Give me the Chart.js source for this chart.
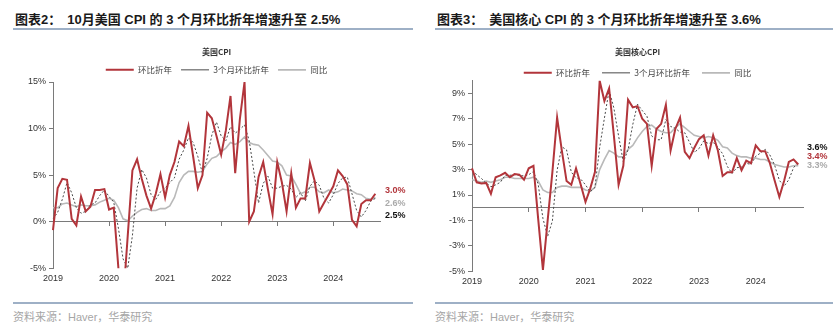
<!DOCTYPE html>
<html>
<head>
<meta charset="utf-8">
<script src="https://cdn.jsdelivr.net/npm/chart.js@4.4.1/dist/chart.umd.min.js"></script>
<style>
  body { margin: 0; width: 837px; height: 334px; position: relative; overflow: hidden; background: #fff;
         font-family: "Liberation Sans", "Noto Sans CJK SC", sans-serif; }
  .head { position: absolute; top: 11px; font-size: 13px; font-weight: bold; color: #1a1a1a; line-height: 18px; white-space: nowrap; }
  .head span { margin-left: 6px; }
  .rule { position: absolute; height: 2px; background: #9eb0c6; }
  .src { position: absolute; top: 308px; font-size: 11px; color: #a6a6a6; white-space: nowrap; }
  canvas { position: absolute; }
</style>
</head>
<body>
<div class="head" style="left:15px">图表2：<span>10月美国 CPI 的 3 个月环比折年增速升至 2.5%</span></div>
<div class="rule" style="left:13px; width:400px; top:28px"></div>
<div class="head" style="left:437px">图表3：<span>美国核心 CPI 的 3 个月环比折年增速升至 3.6%</span></div>
<div class="rule" style="left:435px; width:398px; top:28px"></div>

<canvas id="cpi" width="420" height="250" style="left:0; top:40px"></canvas>
<canvas id="core" width="417" height="250" style="left:420px; top:40px"></canvas>

<div class="rule" style="left:13px; width:400px; top:302px"></div>
<div class="src" style="left:13px">资料来源：Haver，华泰研究</div>
<div class="rule" style="left:435px; width:398px; top:302px"></div>
<div class="src" style="left:435px">资料来源：Haver，华泰研究</div>

<script>
// monthly axis Jan 2019 – Nov 2024 (data runs to Oct 2024, axis one month longer)
const years = ['2019', '2020', '2021', '2022', '2023', '2024'];
const months = years.flatMap(y => Array.from({ length: 12 }, (_, m) => y + '-' + (m + 1))).slice(0, 71);

// headline CPI, %
const cpiMom = [
  -0.9, 3.6, 4.6, 4.5, 0.3, -0.4, 2.7, 1.1, 1.6, 3.4, 3.4, 3.5,
  1.3, 1.5, -5.0, -8.6, -1.5, 5.5, 6.7, 4.6, 2.8, 1.4, 3.0, 5.1,
  2.6, 5.0, 6.4, 8.6, 8.1, 10.3, 7.0, 3.6, 5.0, 11.7, 11.1, 9.2,
  7.2, 9.8, 13.5, 5.2, 11.0, 15.0, 0.0, 1.1, 4.8, 6.4, 3.5, 0.8,
  6.4, 4.2, 1.1, 5.2, 1.5, 2.5, 2.5, 6.3, 4.4, 1.1, 2.0, 2.9,
  3.8, 5.5, 4.9, 4.0, 0.2, -0.5, 1.9, 2.3, 2.3, 3.0
];
const cpi3m = [
  0.3, 1.0, 2.4, 4.2, 3.1, 1.5, 0.9, 1.1, 1.8, 2.0, 2.8, 3.4,
  2.7, 2.1, -0.7, -4.0, -5.0, -1.5, 3.6, 5.6, 4.7, 2.9, 2.4, 3.2,
  3.6, 4.2, 4.7, 6.7, 7.7, 9.0, 8.5, 7.0, 5.2, 6.8, 9.3, 10.7,
  9.2, 8.7, 10.2, 9.5, 9.9, 10.4, 8.7, 5.4, 2.0, 4.1, 4.9, 3.6,
  3.6, 3.8, 3.9, 3.5, 2.6, 3.1, 2.2, 3.8, 4.4, 3.9, 2.5, 2.0,
  2.9, 4.1, 4.7, 4.8, 3.0, 1.2, 0.5, 1.2, 2.2, 2.5
];
const cpiYoy = [
  1.5, 1.5, 1.9, 2.0, 1.8, 1.6, 1.8, 1.7, 1.7, 1.8, 2.1, 2.3,
  2.5, 2.3, 1.5, 0.3, 0.1, 0.6, 1.0, 1.3, 1.4, 1.2, 1.2, 1.4,
  1.4, 1.7, 2.6, 4.2, 5.0, 5.4, 5.4, 5.3, 5.4, 6.2, 6.8, 7.0,
  7.5, 7.9, 8.5, 8.3, 8.6, 9.1, 8.5, 8.3, 8.2, 7.7, 7.1, 6.5,
  6.4, 6.0, 5.0, 4.9, 4.0, 3.0, 3.2, 3.7, 3.7, 3.2, 3.1, 3.4,
  3.1, 3.2, 3.5, 3.4, 3.3, 3.0, 2.9, 2.5, 2.4, 2.6
];

// core CPI, %
const coreMom = [
  3.1, 2.0, 1.9, 1.95, 1.1, 2.4, 2.55, 2.75, 2.4, 2.65, 2.6, 2.2,
  3.1, 3.3, -0.9, -4.9, -1.0, 2.8, 7.1, 4.5, 2.1, 1.8, 3.1, 1.8,
  0.45, 1.5, 2.8, 10.0, 8.4, 9.4, 5.7, 1.8, 3.3, 8.5, 7.9, 8.0,
  7.0, 6.6, 3.3, 6.2, 6.6, 8.1, 4.5, 6.2, 7.1, 4.4, 3.9, 4.7,
  5.4, 5.7, 4.1, 5.7, 4.5, 2.5, 2.8, 2.8, 3.9, 2.95, 3.7, 3.5,
  4.9, 4.45, 4.45, 3.5, 2.15, 0.85, 2.1, 3.6, 3.8, 3.4
];
const core3m = [
  2.9, 2.6, 2.3, 1.95, 1.65, 1.8, 2.0, 2.55, 2.55, 2.6, 2.55, 2.5,
  2.6, 2.85, 1.85, -0.85, -2.25, -1.05, 2.95, 4.8, 4.55, 2.8, 2.35, 2.25,
  1.8, 1.25, 1.6, 4.75, 7.05, 9.25, 7.85, 5.65, 3.6, 4.55, 6.55, 8.15,
  7.65, 7.2, 5.65, 5.35, 5.35, 6.95, 6.4, 6.25, 5.95, 5.9, 5.15, 4.35,
  4.65, 5.25, 5.05, 5.15, 4.75, 4.25, 3.25, 2.7, 3.15, 3.2, 3.5, 3.4,
  4.05, 4.3, 4.6, 4.15, 3.35, 2.15, 1.7, 2.2, 3.15, 3.6
];
const coreYoy = [
  2.2, 2.1, 2.0, 2.1, 2.0, 2.1, 2.2, 2.4, 2.4, 2.3, 2.3, 2.3,
  2.3, 2.4, 2.1, 1.4, 1.2, 1.2, 1.6, 1.7, 1.7, 1.6, 1.6, 1.6,
  1.4, 1.3, 1.6, 3.0, 3.8, 4.5, 4.3, 4.0, 4.0, 4.6, 4.9, 5.5,
  6.0, 6.4, 6.5, 6.2, 6.0, 5.9, 5.9, 6.3, 6.6, 6.3, 6.0, 5.7,
  5.6, 5.5, 5.6, 5.5, 5.3, 4.8, 4.7, 4.3, 4.1, 4.0, 4.0, 3.9,
  3.9, 3.8, 3.8, 3.6, 3.4, 3.3, 3.2, 3.2, 3.3, 3.3
];

const cpiTicks = [-5, 0, 5, 10, 15];
const coreTicks = [-5, -3, -1, 1, 3, 5, 7, 9];
const seriesNames = ['环比折年', '3个月环比折年', '同比'];

const RED = '#b2353b';
const DASH = '#4a4a4a';
const GREY = '#b9b9b9';
const LATIN = '"Liberation Sans", Arial, sans-serif';
const CJK = '"Noto Sans CJK SC", sans-serif';

// latest value of each series, stacked to the right of the plot
const endLabels = {
  id: 'endLabels',
  afterDraw(chart, args, opts) {
    const { ctx, chartArea } = chart;
    const y0 = chart.scales.y.getPixelForValue(opts.center);
    ctx.save();
    ctx.font = 'bold ' + opts.size + 'px ' + LATIN;
    ctx.textBaseline = 'middle';
    opts.order.forEach((di, i) => {
      const ds = chart.data.datasets[di];
      ctx.fillStyle = opts.colors[i];
      ctx.fillText(ds.data[ds.data.length - 1].toFixed(1) + '%', chartArea.right + opts.dx,
        y0 + (i - (opts.order.length - 1) / 2) * opts.gap);
    });
    ctx.restore();
  }
};

function makeChart(id, title, mom, m3, yoy, ticks, range, box, labels) {
  return new Chart(document.getElementById(id), {
    type: 'line',
    data: {
      labels: months,
      datasets: [
        { label: seriesNames[0], data: mom, borderColor: RED, borderWidth: 2 },
        { label: seriesNames[1], data: m3, borderColor: DASH, borderWidth: 1, borderDash: [2, 2] },
        { label: seriesNames[2], data: yoy, borderColor: GREY, borderWidth: 1.6 }
      ]
    },
    options: {
      responsive: false,
      animation: false,
      events: [],
      elements: { point: { radius: 0 }, line: { tension: 0 } },
      layout: { padding: { top: -2, right: box.padRight, bottom: box.padBottom, left: 0 } },
      plugins: {
        title: {
          display: true, text: title, fullSize: false, color: '#333',
          font: { family: CJK, size: 8, weight: 'bold' }, padding: { top: 9, bottom: 0 }
        },
        legend: {
          fullSize: false,
          maxHeight: box.legendHeight,
          labels: {
            usePointStyle: true, pointStyle: 'line', pointStyleWidth: 28, padding: box.legendPad,
            color: '#444', font: { family: CJK, size: 8.5 }
          }
        },
        tooltip: { enabled: false },
        endLabels: labels
      },
      scales: {
        x: {
          position: { y: 0 },
          border: { color: '#7a7a7a' },
          grid: {
            drawOnChartArea: false, tickLength: 4,
            color: c => c.index % 12 === 0 ? '#7a7a7a' : 'transparent'
          },
          ticks: { display: false, autoSkip: false }
        },
        x2: {
          position: 'bottom',
          border: { display: false },
          grid: { display: false, drawTicks: false },
          ticks: {
            autoSkip: false, maxRotation: 0, padding: 5, color: '#333',
            font: { family: LATIN, size: 9 },
            callback: (v, i) => i % 12 === 0 ? years[i / 12] : ''
          }
        },
        y: {
          min: range[0], max: range[1],
          afterBuildTicks: s => { s.ticks = ticks.map(v => ({ value: v })); },
          afterFit: s => { s.width = box.axisWidth; },
          border: { color: '#7a7a7a' },
          grid: { drawOnChartArea: false, tickLength: 4, color: '#7a7a7a' },
          ticks: { padding: 3, color: '#333', font: { family: LATIN, size: 9 }, callback: v => v + '%' }
        }
      }
    },
    plugins: [endLabels]
  });
}

makeChart('cpi', '美国CPI', cpiMom, cpi3m, cpiYoy, cpiTicks, [-5, 15],
  { axisWidth: 53, padRight: 40, padBottom: 1, legendPad: 9, legendHeight: 25.4 },
  { order: [0, 2, 1], colors: [RED, '#aaaaaa', '#111'], center: 2.0, gap: 12.5, dx: 5, size: 9 });
makeChart('core', '美国核心CPI', coreMom, core3m, coreYoy, coreTicks, [-5, 10],
  { axisWidth: 52, padRight: 34, padBottom: -2, legendPad: 12, legendHeight: 24.1 },
  { order: [1, 0, 2], colors: ['#111', RED, '#aaaaaa'], center: 4.0, gap: 9, dx: 4, size: 9 });
</script>
</body>
</html>
